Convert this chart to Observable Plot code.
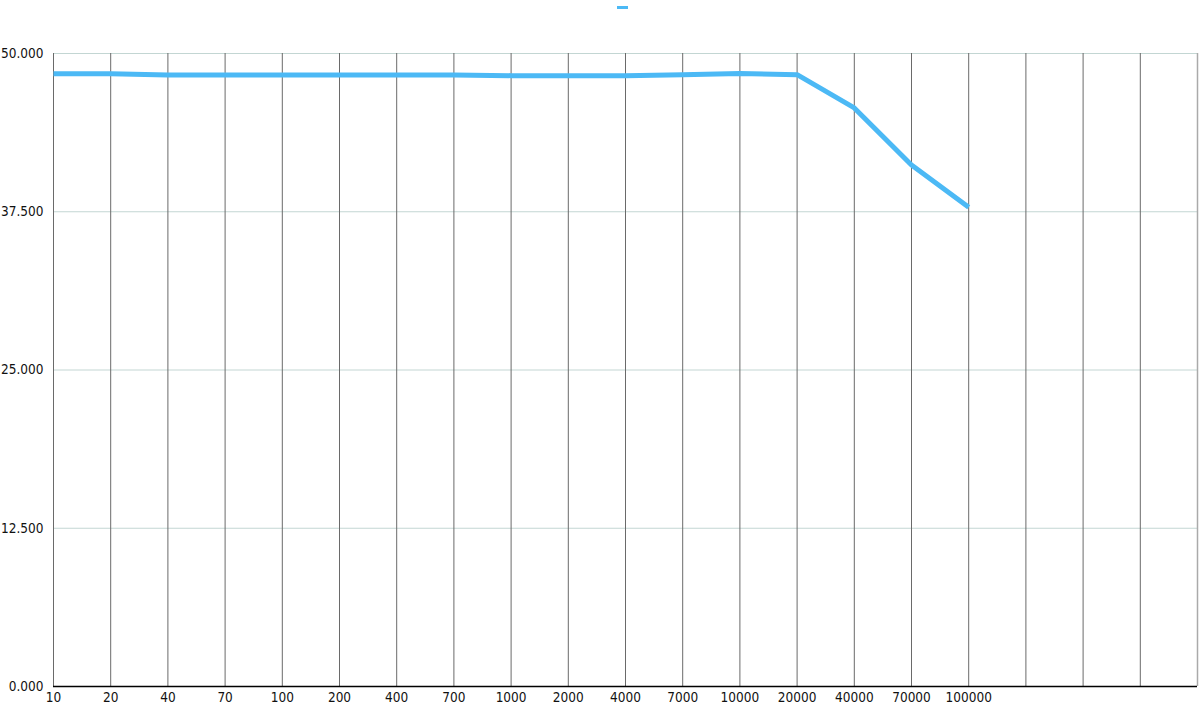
<!DOCTYPE html>
<html>
<head>
<meta charset="utf-8">
<script src="https://cdn.jsdelivr.net/npm/d3@7"></script>
<script src="https://cdn.jsdelivr.net/npm/@observablehq/plot@0.6"></script>
<style>
  html, body { margin: 0; padding: 0; background: #fff; }
  #legend { position: relative; height: 14px; width: 1200px; }
  #legend .sw { position: absolute; left: 617px; top: 6px; width: 11px; height: 3px; background: #4cb9f5; }
  svg { display: block; }
</style>
</head>
<body>
<div id="legend"><span class="sw"></span></div>
<div id="chart"></div>
<script>
const categories = ["10","20","40","70","100","200","400","700","1000","2000","4000","7000","10000","20000","40000","70000","100000"];
const values = [48.4, 48.4, 48.3, 48.3, 48.3, 48.3, 48.3, 48.3, 48.25, 48.25, 48.25, 48.32, 48.42, 48.33, 45.7, 41.2, 37.85];
const slotCount = 21;               // gridline slots along the x axis (last 4 unlabeled)
const yTicks = [0, 12.5, 25, 37.5, 50];

const data = categories.map((c, i) => ({i, label: c, value: values[i]}));
const slots = d3.range(slotCount);
const font = "'DejaVu Sans Condensed', 'DejaVu Sans', sans-serif";

const plot = Plot.plot({
  width: 1200,
  height: 696,
  marginLeft: 53,
  marginRight: 3,
  marginTop: 39,
  marginBottom: 24,
  style: {fontFamily: font, fontSize: "13.5px", color: "#111", background: "#fff", overflow: "visible", fontStretch: "condensed"},
  x: {domain: [0, slotCount - 1], axis: null},
  y: {domain: [0, 50], axis: null},
  marks: [
    Plot.ruleY(yTicks.filter(d => d > 0), {stroke: "#c3d6d3", strokeWidth: 1}),
    Plot.ruleX(slots.slice(0, slotCount - 1), {stroke: "#6a6a6a", strokeWidth: 1}),
    Plot.ruleX([slotCount - 1], {stroke: "#aaaaaa", strokeWidth: 1.5}),
    Plot.ruleY([0], {stroke: "#000", strokeWidth: 1.5}),
    Plot.axisY({ticks: yTicks, tickSize: 0, tickPadding: 10, tickFormat: d => d3.format(".3f")(d), label: null, fontSize: 13.5}),
    Plot.axisX({ticks: d3.range(categories.length), tickSize: 0, tickPadding: 6, tickFormat: i => categories[i], label: null, fontSize: 13.5}),
    Plot.line(data, {x: "i", y: "value", stroke: "#4cb9f5", strokeWidth: 5, strokeLinejoin: "round", strokeLinecap: "butt"})
  ]
});
document.getElementById("chart").appendChild(plot);
</script>
</body>
</html>
